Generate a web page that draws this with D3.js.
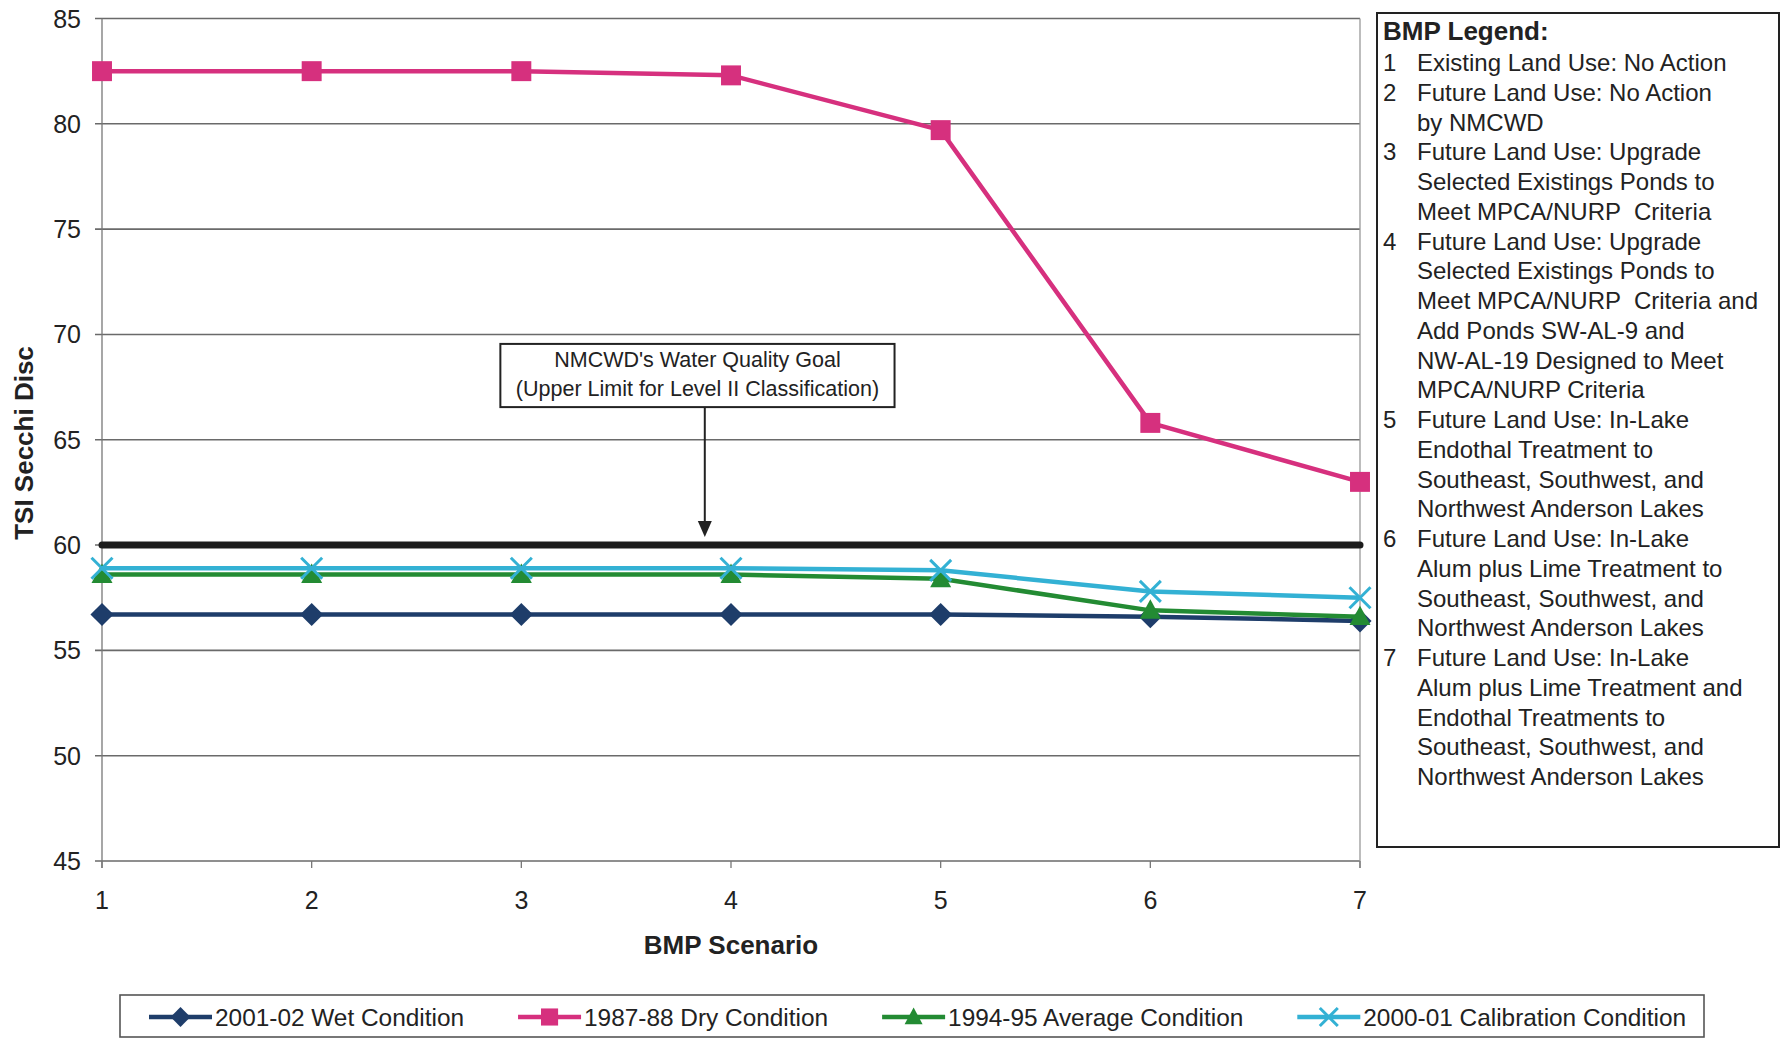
<!DOCTYPE html>
<html>
<head>
<meta charset="utf-8">
<script src="https://cdn.jsdelivr.net/npm/d3@7"></script>
<style>
  html, body { margin: 0; padding: 0; background: #fff; }
  svg { display: block; font-family: "Liberation Sans", Arial, Helvetica, sans-serif; }
</style>
</head>
<body>
<svg id="chart" width="1781" height="1039"></svg>
<script>
// BMP scenarios on the x axis
const scenarios = [1, 2, 3, 4, 5, 6, 7];
const yTicks = [45, 50, 55, 60, 65, 70, 75, 80, 85];

// TSI Secchi Disc per scenario, one array per climatic condition
const wet2001 = [56.7, 56.7, 56.7, 56.7, 56.7, 56.6, 56.4];
const dry1987 = [82.5, 82.5, 82.5, 82.3, 79.7, 65.8, 63.0];
const avg1994 = [58.6, 58.6, 58.6, 58.6, 58.4, 56.9, 56.6];
const cal2000 = [58.9, 58.9, 58.9, 58.9, 58.8, 57.8, 57.5];

const seriesNames = ["2001-02 Wet Condition", "1987-88 Dry Condition", "1994-95 Average Condition", "2000-01 Calibration Condition"];
const goalValue = 60;
const goalLabel = ["NMCWD's Water Quality Goal", "(Upper Limit for Level II Classification)"];

const bmpLegendTitle = "BMP Legend:";
const bmpLegend = [
  ["1", ["Existing Land Use: No Action"]],
  ["2", ["Future Land Use: No Action", "by NMCWD"]],
  ["3", ["Future Land Use: Upgrade", "Selected Existings Ponds to", "Meet MPCA/NURP  Criteria"]],
  ["4", ["Future Land Use: Upgrade", "Selected Existings Ponds to", "Meet MPCA/NURP  Criteria and", "Add Ponds SW-AL-9 and", "NW-AL-19 Designed to Meet", "MPCA/NURP Criteria"]],
  ["5", ["Future Land Use: In-Lake", "Endothal Treatment to", "Southeast, Southwest, and", "Northwest Anderson Lakes"]],
  ["6", ["Future Land Use: In-Lake", "Alum plus Lime Treatment to", "Southeast, Southwest, and", "Northwest Anderson Lakes"]],
  ["7", ["Future Land Use: In-Lake", "Alum plus Lime Treatment and", "Endothal Treatments to", "Southeast, Southwest, and", "Northwest Anderson Lakes"]]
];

const series = [
  { name: seriesNames[0], values: wet2001, color: "#1e3d6a", marker: "diamond" },
  { name: seriesNames[1], values: dry1987, color: "#d6307e", marker: "square" },
  { name: seriesNames[2], values: avg1994, color: "#238b33", marker: "triangle" },
  { name: seriesNames[3], values: cal2000, color: "#33b1d4", marker: "cross" }
];

const svg = d3.select("#chart");
const FONT = 25;

const x = d3.scaleLinear().domain([1, 7]).range([102, 1360]);
const y = d3.scaleLinear().domain([45, 85]).range([861, 18.5]);

// horizontal gridlines with outward ticks
const grid = svg.append("g").attr("class", "grid");
grid.selectAll("line").data(yTicks).join("line")
  .attr("x1", x(1) - 7).attr("x2", x(7))
  .attr("y1", d => y(d)).attr("y2", d => y(d))
  .attr("stroke", "#6a6a6a").attr("stroke-width", 1.6);

// y tick labels
svg.append("g").selectAll("text").data(yTicks).join("text")
  .attr("x", 81).attr("y", d => y(d) + 9)
  .attr("text-anchor", "end")
  .attr("font-size", FONT).attr("fill", "#222")
  .text(d => d);

// plot frame verticals
svg.append("line").attr("x1", x(1)).attr("x2", x(1)).attr("y1", y(85)).attr("y2", y(45) + 7)
  .attr("stroke", "#777").attr("stroke-width", 1.3);
svg.append("line").attr("x1", x(7)).attr("x2", x(7)).attr("y1", y(85)).attr("y2", y(45) + 7)
  .attr("stroke", "#999").attr("stroke-width", 1.3);

// x ticks and labels
svg.append("g").selectAll("line").data(scenarios).join("line")
  .attr("x1", d => x(d)).attr("x2", d => x(d))
  .attr("y1", y(45)).attr("y2", y(45) + 7)
  .attr("stroke", "#777").attr("stroke-width", 1.3);
svg.append("g").selectAll("text").data(scenarios).join("text")
  .attr("x", d => x(d)).attr("y", 909)
  .attr("text-anchor", "middle")
  .attr("font-size", FONT).attr("fill", "#222")
  .text(d => d);

// axis titles
svg.append("text")
  .attr("x", 731).attr("y", 954)
  .attr("text-anchor", "middle")
  .attr("font-size", 26).attr("font-weight", "bold").attr("fill", "#222")
  .text("BMP Scenario");
svg.append("text")
  .attr("transform", "translate(33,443) rotate(-90)")
  .attr("text-anchor", "middle")
  .attr("font-size", 26).attr("font-weight", "bold").attr("fill", "#222")
  .text("TSI Secchi Disc");

// water quality goal line
svg.append("line")
  .attr("x1", x(1)).attr("x2", x(7))
  .attr("y1", y(goalValue)).attr("y2", y(goalValue))
  .attr("stroke", "#1c1c1c").attr("stroke-width", 7).attr("stroke-linecap", "round");

// goal annotation box and arrow
const annX = x(3.875);
const boxL = x(2.90), boxR = x(4.78);
const boxT = y(69.55), boxB = y(66.55);
svg.append("rect")
  .attr("x", boxL).attr("y", boxT).attr("width", boxR - boxL).attr("height", boxB - boxT)
  .attr("fill", "#fff").attr("stroke", "#222").attr("stroke-width", 2);
svg.append("g").selectAll("text").data(goalLabel).join("text")
  .attr("x", (boxL + boxR) / 2).attr("y", (d, i) => boxT + 23 + i * 29)
  .attr("text-anchor", "middle").attr("font-size", 21.5).attr("fill", "#222")
  .text(d => d);
const tipY = y(goalValue) - 8;
svg.append("line").attr("x1", annX).attr("x2", annX).attr("y1", boxB).attr("y2", tipY - 14)
  .attr("stroke", "#222").attr("stroke-width", 2);
svg.append("path")
  .attr("d", `M${annX - 7},${tipY - 16} L${annX + 7},${tipY - 16} L${annX},${tipY} Z`)
  .attr("fill", "#222");

// marker drawing
function drawMarker(g, type, color, cx, cy, s) {
  if (type === "diamond") {
    g.append("path").attr("d", `M${cx},${cy - s * 1.1} L${cx + s * 1.1},${cy} L${cx},${cy + s * 1.1} L${cx - s * 1.1},${cy} Z`).attr("fill", color);
  } else if (type === "square") {
    g.append("rect").attr("x", cx - s * 0.95).attr("y", cy - s * 0.95).attr("width", s * 1.9).attr("height", s * 1.9).attr("fill", color);
  } else if (type === "triangle") {
    g.append("path").attr("d", `M${cx},${cy - s * 1.05} L${cx + s},${cy + s * 0.8} L${cx - s},${cy + s * 0.8} Z`).attr("fill", color);
  } else if (type === "cross") {
    g.append("path").attr("d", `M${cx - s},${cy - s} L${cx + s},${cy + s} M${cx + s},${cy - s} L${cx - s},${cy + s}`)
      .attr("stroke", color).attr("stroke-width", 3).attr("fill", "none");
  }
}

const line = d3.line().x((d, i) => x(scenarios[i])).y(d => y(d));

series.forEach(s => {
  const g = svg.append("g");
  g.append("path").datum(s.values)
    .attr("d", line)
    .attr("fill", "none").attr("stroke", s.color).attr("stroke-width", 4.5)
    .attr("stroke-linejoin", "round");
  s.values.forEach((v, i) => drawMarker(g, s.marker, s.color, x(scenarios[i]), y(v), 10.5));
});

// BMP legend box
const lg = svg.append("g");
lg.append("rect").attr("x", 1377).attr("y", 13).attr("width", 402).attr("height", 834)
  .attr("fill", "#fff").attr("stroke", "#222").attr("stroke-width", 2);
lg.append("text").attr("x", 1383).attr("y", 40)
  .attr("font-size", 26).attr("font-weight", "bold").attr("fill", "#222")
  .text(bmpLegendTitle);
let row = 0;
const lineH = 29.75;
bmpLegend.forEach(([num, lines]) => {
  lg.append("text").attr("x", 1383).attr("y", 71 + row * lineH)
    .attr("font-size", 24).attr("fill", "#222").text(num);
  lines.forEach(t => {
    lg.append("text").attr("x", 1417).attr("y", 71 + row * lineH)
      .attr("font-size", 24).attr("fill", "#222").attr("xml:space", "preserve").text(t);
    row++;
  });
});

// series legend along the bottom
const sl = svg.append("g");
sl.append("rect").attr("x", 120).attr("y", 995).attr("width", 1584).attr("height", 42)
  .attr("fill", "#fff").attr("stroke", "#555").attr("stroke-width", 1.6);
let lx = 149;
const ly = 1017;
series.forEach(s => {
  sl.append("line").attr("x1", lx).attr("x2", lx + 63).attr("y1", ly).attr("y2", ly)
    .attr("stroke", s.color).attr("stroke-width", 4.5);
  drawMarker(sl, s.marker, s.color, lx + 31.5, ly, 9);
  const t = sl.append("text").attr("x", lx + 66).attr("y", ly + 9)
    .attr("font-size", 24.4).attr("fill", "#222").text(s.name);
  lx += 66 + t.node().getComputedTextLength() + 54;
});
</script>
</body>
</html>
